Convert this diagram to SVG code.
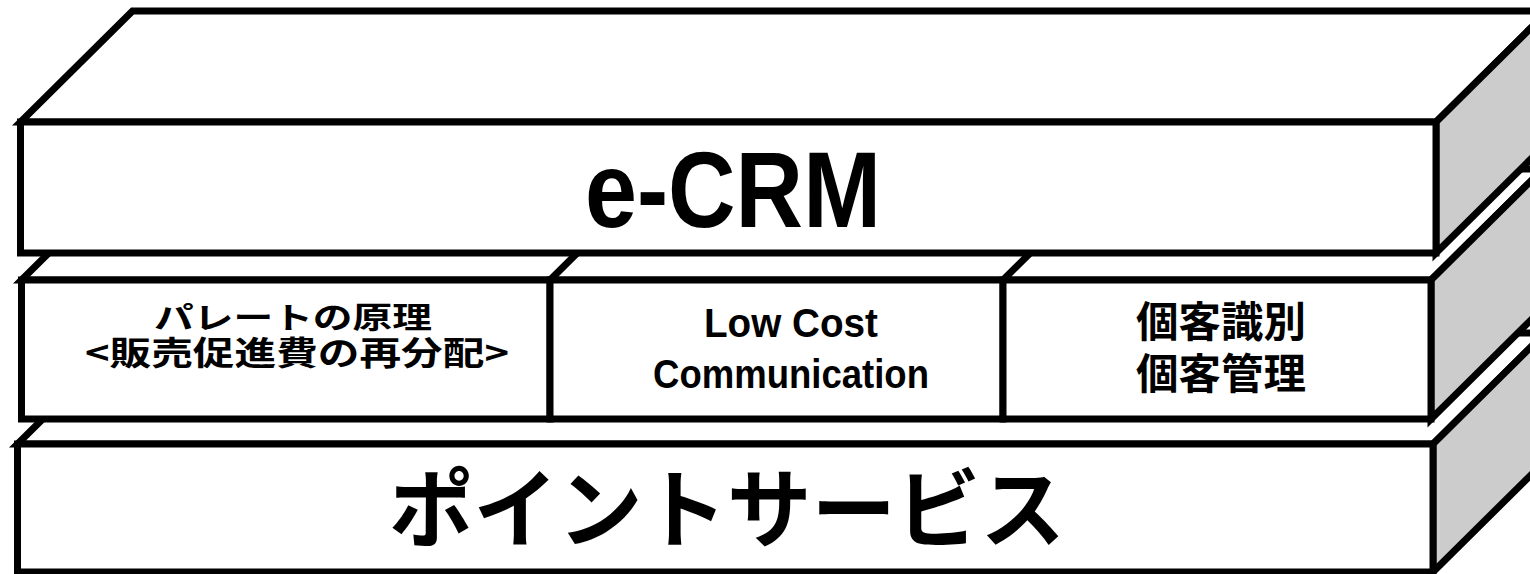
<svg xmlns="http://www.w3.org/2000/svg" width="1530" height="574" viewBox="0 0 1530 574">
<style>
.edge{stroke:#000;stroke-width:7;stroke-linejoin:miter;stroke-linecap:square}
.face{fill:#fff}
.side{fill:#cccccc}
.jp{font-family:"Noto Sans CJK JP","Noto Sans CJK SC",sans-serif;font-weight:700;fill:#000}
.lat{font-family:"Liberation Sans",Arial,sans-serif;font-weight:700;fill:#000}
</style>
<rect width="1530" height="574" fill="#fff"/>
<g id="slab-point-service">
<polygon class="face edge" points="17.5,444 129.5,333 1545,333 1433,444"/>
<polygon class="side edge" points="1433,444 1545,333 1545,461 1433,572"/>
<rect class="face edge" x="17.5" y="444" width="1415.5" height="128"/>
<text class="jp" x="727" y="541" font-size="86" text-anchor="middle" textLength="676" lengthAdjust="spacingAndGlyphs">ポイントサービス</text>
</g>
<g id="slab-middle">
<polygon class="face edge" points="21.5,280 133.5,169 1543,169 1431,280"/>
<line class="edge" x1="550" y1="280" x2="662" y2="169"/>
<line class="edge" x1="1003" y1="280" x2="1115" y2="169"/>
<polygon class="side edge" points="1431,280 1543,169 1543,308 1431,419"/>
<g id="node-pareto">
<rect class="face edge" x="21.5" y="280" width="528.5" height="139"/>
<text class="jp" x="293" y="328" font-size="30" text-anchor="middle" textLength="278" lengthAdjust="spacingAndGlyphs">パレートの原理</text>
<text class="jp" x="297" y="365" font-size="33" text-anchor="middle" textLength="424" lengthAdjust="spacingAndGlyphs">&lt;販売促進費の再分配&gt;</text>
</g>
<g id="node-lowcost">
<rect class="face edge" x="550" y="280" width="453" height="139"/>
<text class="lat" x="791" y="337" font-size="41" text-anchor="middle" textLength="174" lengthAdjust="spacingAndGlyphs">Low Cost</text>
<text class="lat" x="791" y="388" font-size="41" text-anchor="middle" textLength="276" lengthAdjust="spacingAndGlyphs">Communication</text>
</g>
<g id="node-customer">
<rect class="face edge" x="1003" y="280" width="428" height="139"/>
<text class="jp" x="1221" y="337" font-size="42" text-anchor="middle" textLength="170" lengthAdjust="spacingAndGlyphs">個客識別</text>
<text class="jp" x="1221" y="389" font-size="42" text-anchor="middle" textLength="170" lengthAdjust="spacingAndGlyphs">個客管理</text>
</g>
</g>
<g id="slab-ecrm">
<polygon class="face edge" points="20.5,122 132.5,11 1548,11 1436,122"/>
<polygon class="side edge" points="1436,122 1548,11 1548,142 1436,253"/>
<rect class="face edge" x="20.5" y="122" width="1415.5" height="131"/>
<text class="lat" x="733" y="227" font-size="108" text-anchor="middle" textLength="296" lengthAdjust="spacingAndGlyphs">e-CRM</text>
</g>
<g id="connectors"/>
</svg>
